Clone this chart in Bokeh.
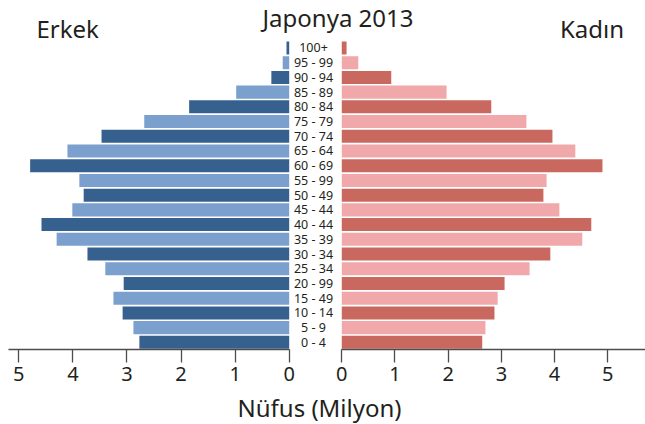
from bokeh.plotting import figure
from bokeh.models import Range1d, FixedTicker, ColumnDataSource, LinearAxis
from bokeh.core.properties import value
from bokeh.embed import file_html
from bokeh.resources import INLINE

FONT = "Noto Sans"
TXT = "#231f20"
AXC = "#4d4d4d"

title_text = "Japonya 2013"
left_title = "Erkek"
right_title = "Kadın"
x_label = "Nüfus (Milyon)"

ages = ["0 - 4", "5 - 9", "10 - 14", "15 - 49", "20 - 99", "25 - 34", "30 - 34",
        "35 - 39", "40 - 44", "45 - 44", "50 - 49", "55 - 99", "60 - 69", "65 - 64",
        "70 - 74", "75 - 79", "80 - 84", "85 - 89", "90 - 94", "95 - 99", "100+"]
male = [2.77, 2.88, 3.08, 3.25, 3.06, 3.40, 3.73, 4.30, 4.58, 4.01, 3.80,
        3.88, 4.79, 4.10, 3.47, 2.68, 1.85, 0.98, 0.33, 0.12, 0.05]
female = [2.64, 2.70, 2.87, 2.93, 3.06, 3.53, 3.92, 4.52, 4.69, 4.09, 3.79,
          3.85, 4.90, 4.39, 3.96, 3.47, 2.81, 1.97, 0.93, 0.31, 0.09]
ticks = [0, 1, 2, 3, 4, 5]

male_colors = ["#36618E", "#7BA0CD"]
female_colors = ["#C9685F", "#F1A8AA"]

n = len(ages)
src = ColumnDataSource(dict(
    age=ages, pos=list(range(n)), male=male, female=female,
    mc=[male_colors[i % 2] for i in range(n)],
    fc=[female_colors[i % 2] for i in range(n)],
    lx=[313] * n,
))

BAR_H = 0.885
AXIS_Y = -0.476

p = figure(frame_width=645, frame_height=424,
           x_range=Range1d(5.338, -6.588), y_range=Range1d(-5.581, 23.224),
           toolbar_location=None, output_backend="svg", title=None,
           min_border_left=0, min_border_right=0, min_border_top=0, min_border_bottom=0,
           y_axis_location=None)
p.extra_x_ranges = {"right": Range1d(-6.415, 5.709), "px": Range1d(0, 645)}
p.extra_y_ranges = {"px": Range1d(424, 0)}
p.grid.visible = False
p.outline_line_color = None

# bars
p.hbar(y="pos", left=0, right="male", height=BAR_H, fill_color="mc",
       line_color=None, source=src)
p.hbar(y="pos", left=0, right="female", height=BAR_H, fill_color="fc",
       line_color=None, source=src, x_range_name="right")

# age labels
p.text(x="lx", y="pos", text="age", source=src, x_range_name="px",
       text_font=value(FONT), text_font_size="12.5px", text_color=TXT,
       text_align="center", text_baseline="middle")

# titles
p.text(x=[337.5], y=[17], text=[title_text], x_range_name="px", y_range_name="px",
       text_font=value(FONT), text_font_size="24px", text_color=TXT,
       text_align="center", text_baseline="alphabetic")
p.text(x=[36], y=[28], text=[left_title], x_range_name="px", y_range_name="px",
       text_font=value(FONT), text_font_size="24px", text_color=TXT,
       text_align="left", text_baseline="alphabetic")
p.text(x=[623.5], y=[28], text=[right_title], x_range_name="px", y_range_name="px",
       text_font=value(FONT), text_font_size="24px", text_color=TXT,
       text_align="right", text_baseline="alphabetic")
p.text(x=[319], y=[407], text=[x_label], x_range_name="px", y_range_name="px",
       text_font=value(FONT), text_font_size="24px", text_color=TXT,
       text_align="center", text_baseline="alphabetic")


def style_axis(ax, hi):
    ax.ticker = FixedTicker(ticks=ticks)
    ax.bounds = (0, hi)
    ax.fixed_location = AXIS_Y
    ax.axis_line_color = AXC
    ax.axis_line_width = 1.3
    ax.major_tick_line_color = AXC
    ax.major_tick_line_width = 1.3
    ax.major_tick_out = 13
    ax.major_tick_in = 0
    ax.minor_tick_out = 0
    ax.minor_tick_in = 0
    ax.major_label_standoff = 5
    ax.major_label_text_font = FONT
    ax.major_label_text_font_size = "20px"
    ax.major_label_text_color = TXT


style_axis(p.xaxis[0], 5.19)
right_axis = LinearAxis(x_range_name="right")
style_axis(right_axis, 5.709)
p.add_layout(right_axis, "below")

open("out.html", "w").write(file_html(p, INLINE))
